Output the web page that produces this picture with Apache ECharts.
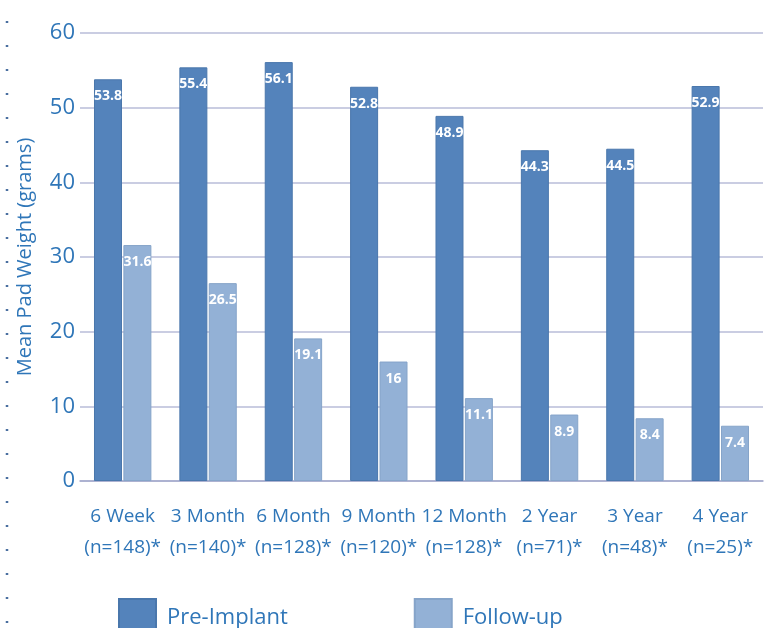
<!DOCTYPE html>
<html>
<head>
<meta charset="utf-8">
<script src="https://cdn.jsdelivr.net/npm/echarts@6/dist/echarts.min.js"></script>
<style>
  html, body { margin: 0; padding: 0; background: #fff; }
  #chart { width: 771px; height: 628px; }
</style>
</head>
<body>
<div id="chart"></div>
<script>
const categories = [
  '6 Week\n(n=148)*', '3 Month\n(n=140)*', '6 Month\n(n=128)*', '9 Month\n(n=120)*',
  '12 Month\n(n=128)*', '2 Year\n(n=71)*', '3 Year\n(n=48)*', '4 Year\n(n=25)*'
]
const preImplant = [53.8, 55.4, 56.1, 52.8, 48.9, 44.3, 44.5, 52.9]
const followUp = [31.6, 26.5, 19.1, 16, 11.1, 8.9, 8.4, 7.4]

const textBlue = '#2f76b8'
const font = '"Open Sans", "Noto Sans", sans-serif'

const barLabel = {
  show: true,
  position: 'insideTop',
  distance: 10,
  color: '#fff',
  fontWeight: 'bold',
  fontSize: 14,
  fontFamily: font
}

const option = {
  animation: false,
  color: ['#5483bb', '#93b1d6'],
  grid: { left: 80, right: 8, top: 33, bottom: 147 },
  legend: {
    data: ['Pre-Implant', 'Follow-up'],
    left: 113,
    top: 593,
    icon: 'rect',
    itemWidth: 37,
    itemHeight: 37,
    itemGap: 126,
    textStyle: { color: textBlue, fontSize: 22, fontFamily: font, padding: [0, 0, 0, 6] }
  },
  xAxis: {
    type: 'category',
    data: categories,
    axisTick: { show: false },
    axisLine: { lineStyle: { color: '#a4a9cc', width: 1.5 } },
    axisLabel: {
      color: textBlue,
      fontSize: 19,
      fontFamily: font,
      lineHeight: 31,
      margin: 20,
      interval: 0
    }
  },
  yAxis: {
    type: 'value',
    min: 0,
    max: 60,
    interval: 10,
    name: 'Mean Pad Weight (grams)',
    nameLocation: 'middle',
    nameGap: 45,
    nameTextStyle: { color: textBlue, fontSize: 20, fontFamily: font },
    axisLabel: { color: textBlue, fontSize: 22, fontFamily: font, margin: 5 },
    splitLine: { lineStyle: { color: '#b9bdd9', width: 1.5 } }
  },
  graphic: [
    {
      type: 'line',
      shape: { x1: 7, y1: 21, x2: 7, y2: 628 },
      style: { stroke: '#4a6fa0', lineWidth: 2.5, lineDash: [2, 22] }
    }
  ],
  series: [
    {
      name: 'Pre-Implant',
      type: 'bar',
      data: preImplant,
      barWidth: 28,
      barGap: '5%',
      label: barLabel,
      itemStyle: { borderColor: '#4a77ac', borderWidth: 1 }
    },
    {
      name: 'Follow-up',
      type: 'bar',
      data: followUp,
      barWidth: 28,
      label: barLabel,
      itemStyle: { borderColor: '#86a4c9', borderWidth: 1 }
    }
  ]
}

const chart = echarts.init(document.getElementById('chart'))
chart.setOption(option)
</script>
</body>
</html>
